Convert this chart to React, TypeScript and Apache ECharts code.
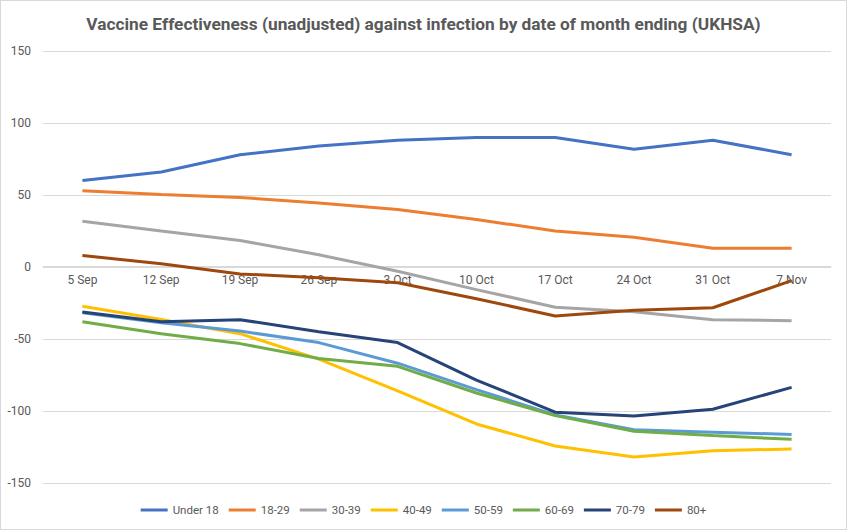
import React, { useEffect, useRef } from "react";
import * as echarts from "echarts";

const categories = ["5 Sep", "12 Sep", "19 Sep", "26 Sep", "3 Oct", "10 Oct", "17 Oct", "24 Oct", "31 Oct", "7 Nov"];
const under18 = [60, 66, 78, 84, 88, 90, 90, 81.7, 88, 78];
const age18_29 = [53, 50.4, 48.3, 44.5, 40, 33, 25, 20.7, 13, 13];
const age30_39 = [31.8, 25, 18.4, 8.5, -3, -15.7, -27.9, -31, -36.6, -37.3];
const age40_49 = [-27.2, -36.4, -46.3, -64, -86, -109, -124.3, -132, -127.6, -126.4];
const age50_59 = [-31.8, -38.7, -44.5, -52.5, -66.8, -85.2, -102.7, -113, -114.7, -116.3];
const age60_69 = [-38, -46.3, -53.2, -63.5, -69, -87.5, -103.2, -114, -117, -119.7];
const age70_79 = [-31.3, -38, -36.6, -44.9, -52.5, -78.5, -100.8, -103.4, -98.8, -83.6];
const age80plus = [8, 2.3, -4.8, -7.4, -11, -22, -34, -30, -28.3, -9.5];

const seriesNames = ["Under 18", "18-29", "30-39", "40-49", "50-59", "60-69", "70-79", "80+"];
const seriesData = [under18, age18_29, age30_39, age40_49, age50_59, age60_69, age70_79, age80plus];
const colors = ["#4472C4", "#ED7D31", "#A5A5A5", "#FFC000", "#5B9BD5", "#70AD47", "#264478", "#9E480E"];

export default function App() {
  const ref = useRef<HTMLDivElement>(null);
  useEffect(() => {
    if (!ref.current) return;
    const chart = echarts.init(ref.current, undefined, { renderer: "svg" });
    chart.setOption({
      animation: false,
      backgroundColor: "#ffffff",
      color: colors,
      title: {
        text: "Vaccine Effectiveness (unadjusted) against infection by date of month ending (UKHSA)",
        left: "center",
        top: 9,
        textStyle: {
          fontFamily: "Roboto, sans-serif",
          fontSize: 17.3,
          fontWeight: "bold",
          color: "#595959",
        },
      },
      legend: {
        bottom: 8,
        left: "center",
        icon: "rect",
        itemWidth: 27,
        itemHeight: 3,
        itemGap: 10,
        textStyle: { color: "#595959", fontSize: 11.5, fontFamily: "Roboto, sans-serif" },
        data: seriesNames,
      },
      grid: { left: 42, right: 15, top: 50, bottom: 46, containLabel: false },
      xAxis: {
        type: "category",
        data: categories,
        boundaryGap: true,
        offset: -217,
        axisLine: { onZero: false, lineStyle: { color: "#D9D9D9", width: 1 } },
        axisTick: { show: false },
        axisLabel: { color: "#595959", fontSize: 12, margin: 8, fontFamily: "Roboto, sans-serif" },
      },
      yAxis: {
        type: "value",
        min: -150,
        max: 150,
        interval: 50,
        axisLine: { show: false },
        axisTick: { show: false },
        splitLine: { lineStyle: { color: "#D9D9D9", width: 1 } },
        axisLabel: { color: "#595959", fontSize: 12, margin: 12, fontFamily: "Roboto, sans-serif" },
      },
      series: seriesNames.map((name, i) => ({
        name,
        type: "line",
        data: seriesData[i],
        showSymbol: false,
        symbol: "none",
        lineStyle: { width: 3, color: colors[i] },
        itemStyle: { color: colors[i] },
      })),
    });
    return () => chart.dispose();
  }, []);
  return (
    <div
      ref={ref}
      style={{
        position: "fixed",
        left: 0,
        top: 0,
        width: 847,
        height: 530,
        boxSizing: "border-box",
        border: "1px solid #D9D9D9",
        background: "#fff",
      }}
    />
  );
}
